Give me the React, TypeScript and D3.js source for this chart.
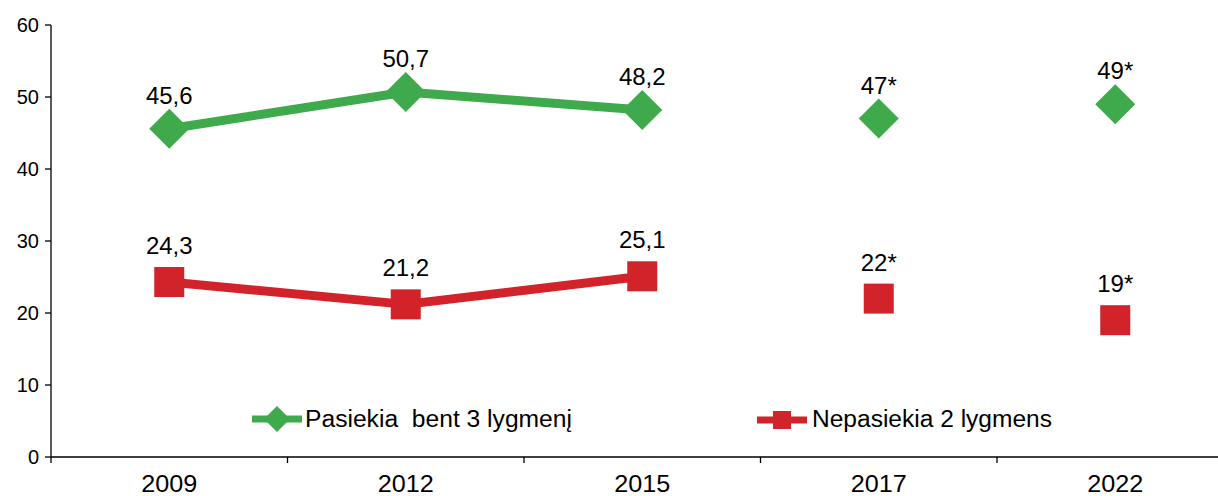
import React from "react";
import * as d3 from "d3";

const years = ["2009", "2012", "2015", "2017", "2022"];
const reachLevel3 = [45.6, 50.7, 48.2, 47, 49];
const notReachLevel2 = [24.3, 21.2, 25.1, 22, 19];
const estimated = [false, false, false, true, true];
const reachLabels = ["45,6", "50,7", "48,2", "47*", "49*"];
const notReachLabels = ["24,3", "21,2", "25,1", "22*", "19*"];
const yTicks = [0, 10, 20, 30, 40, 50, 60];
const legendNames = ["Pasiekia  bent 3 lygmenį", "Nepasiekia 2 lygmens"];

const W = 1218;
const H = 496;
const GREEN = "#3EAA4B";
const RED = "#D2232A";
const FONT = "'Liberation Sans', Arial, sans-serif";

export default function App() {
  const x0 = 51;
  const band = 236.5;
  const x = d3.scaleBand<string>().domain(years).range([x0, x0 + band * years.length]);
  const y = d3.scaleLinear().domain([0, 60]).range([457, 25]);
  const cx = (i: number) => (x(years[i]) as number) + x.bandwidth() / 2;

  const line = d3
    .line<number>()
    .defined((_, i) => !estimated[i])
    .x((_, i) => cx(i))
    .y((d) => y(d));

  const diamond = (px: number, py: number, r: number) =>
    `M${px},${py - r}L${px + r},${py}L${px},${py + r}L${px - r},${py}Z`;

  return (
    <svg
      width={W}
      height={H}
      style={{ position: "absolute", left: 0, top: 0, background: "#fff" }}
      fontFamily={FONT}
    >
      {/* axes */}
      <line x1={x0} x2={x0} y1={y(60)} y2={y(0)} stroke="#000" strokeWidth={1.3} />
      <line x1={x0} x2={W} y1={y(0)} y2={y(0)} stroke="#000" strokeWidth={1.3} />
      {yTicks.map((t) => (
        <g key={t}>
          <line x1={x0 - 6} x2={x0} y1={y(t)} y2={y(t)} stroke="#000" strokeWidth={1.3} />
          <text x={x0 - 12} y={y(t)} dy="0.35em" textAnchor="end" fontSize={20}>
            {t}
          </text>
        </g>
      ))}
      {years.map((yr, i) => (
        <g key={yr}>
          <line
            x1={x(yr) as number}
            x2={x(yr) as number}
            y1={y(0)}
            y2={y(0) + 6}
            stroke="#000"
            strokeWidth={1.3}
          />
          <text x={cx(i)} y={492} textAnchor="middle" fontSize={24} textLength={56} lengthAdjust="spacingAndGlyphs">
            {yr}
          </text>
        </g>
      ))}

      {/* lines */}
      <path d={line(reachLevel3) || ""} fill="none" stroke={GREEN} strokeWidth={9} strokeLinejoin="round" />
      <path d={line(notReachLevel2) || ""} fill="none" stroke={RED} strokeWidth={9} strokeLinejoin="round" />

      {/* markers */}
      {reachLevel3.map((v, i) => (
        <path key={"g" + i} d={diamond(cx(i), y(v), 20)} fill={GREEN} />
      ))}
      {notReachLevel2.map((v, i) => (
        <rect key={"r" + i} x={cx(i) - 15} y={y(v) - 15} width={30} height={30} fill={RED} />
      ))}

      {/* labels */}
      {reachLevel3.map((v, i) => (
        <text key={"gl" + i} x={cx(i)} y={y(v) - 25} textAnchor="middle" fontSize={24}>
          {reachLabels[i]}
        </text>
      ))}
      {notReachLevel2.map((v, i) => (
        <text key={"rl" + i} x={cx(i)} y={y(v) - 28} textAnchor="middle" fontSize={24}>
          {notReachLabels[i]}
        </text>
      ))}

      {/* legend */}
      <g>
        <line x1={252} x2={302} y1={419} y2={419} stroke={GREEN} strokeWidth={7} />
        <path d={diamond(277, 419, 13)} fill={GREEN} />
        <text
          x={305}
          y={427}
          fontSize={23}
          style={{ whiteSpace: "pre" }}
          textLength={267}
          lengthAdjust="spacingAndGlyphs"
        >
          {legendNames[0]}
        </text>
        <line x1={757} x2={807} y1={420} y2={420} stroke={RED} strokeWidth={7} />
        <rect x={773} y={411} width={18} height={18} fill={RED} />
        <text x={812} y={427} fontSize={23} textLength={240} lengthAdjust="spacingAndGlyphs">
          {legendNames[1]}
        </text>
      </g>
    </svg>
  );
}
